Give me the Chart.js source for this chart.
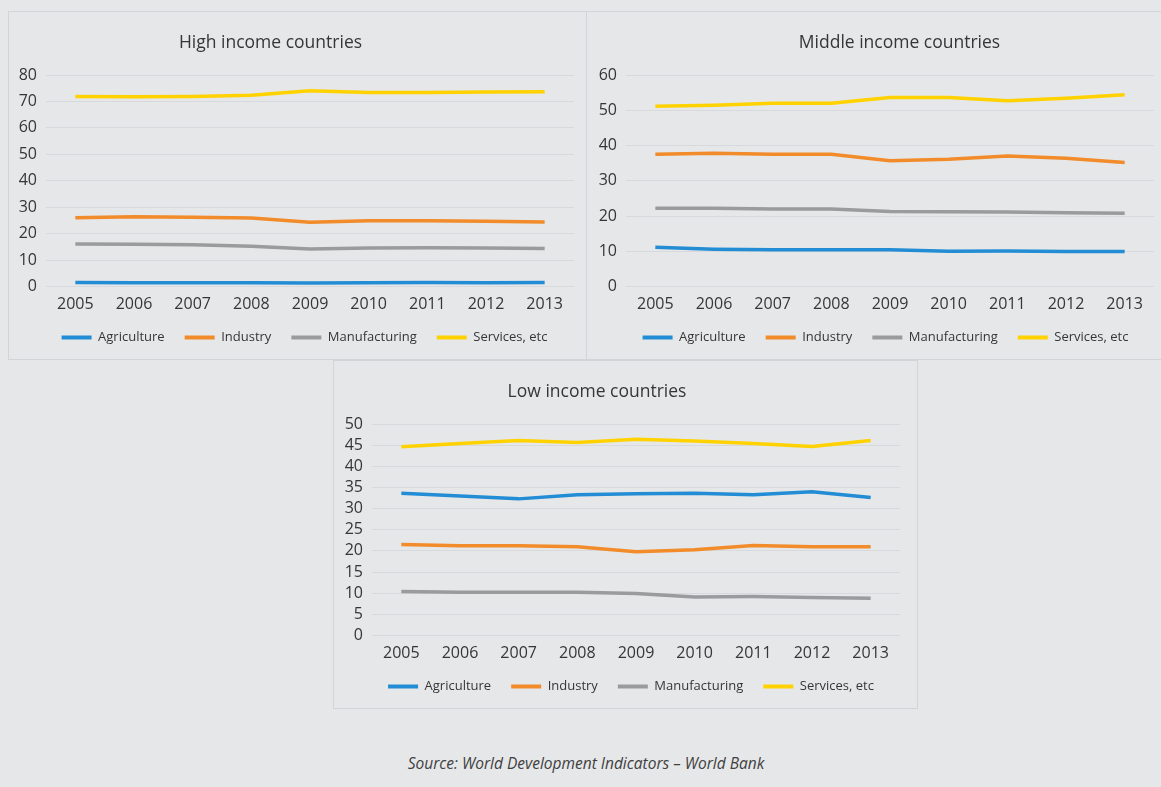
<!DOCTYPE html>
<html>
<head>
<meta charset="utf-8">
<script src="https://cdn.jsdelivr.net/npm/chart.js@4.4.1/dist/chart.umd.min.js"></script>
<style>
  html, body { margin: 0; padding: 0; background: #e6e7e9; }
  body { width: 1161px; height: 787px; position: relative; overflow: hidden; font-family: "Open Sans", sans-serif; }
  .panel { position: absolute; box-sizing: border-box; border: 1px solid #d3d4d7; }
  .panel canvas { position: absolute; left: 0; top: 0; }
  #source { position: absolute; left: 0; width: 1172px; top: 752px; text-align: center;
            font-style: italic; font-size: 15.5px; color: #404040; }
</style>
</head>
<body>
<div class="panel" style="left:8px; top:11px; width:579px; height:349px;"><canvas id="high" width="577" height="347"></canvas></div>
<div class="panel" style="left:586px; top:11px; width:579px; height:349px;"><canvas id="middle" width="577" height="347"></canvas></div>
<div class="panel" style="left:333px; top:360px; width:585px; height:349px;"><canvas id="low" width="583" height="347"></canvas></div>
<div id="source">Source: World Development Indicators – World Bank</div>

<script>
const years = ['2005', '2006', '2007', '2008', '2009', '2010', '2011', '2012', '2013'];
const seriesNames = ['Agriculture', 'Industry', 'Manufacturing', 'Services, etc'];
const seriesColors = ['#228dd4', '#f28b2a', '#9a9b9d', '#ffd200'];

// value added, % of GDP
const highAgriculture   = [1.5, 1.4, 1.4, 1.4, 1.3, 1.4, 1.5, 1.4, 1.5];
const highIndustry      = [26.0, 26.4, 26.2, 25.9, 24.3, 24.9, 24.9, 24.7, 24.4];
const highManufacturing = [16.1, 16.0, 15.8, 15.2, 14.2, 14.6, 14.7, 14.6, 14.4];
const highServices      = [71.9, 71.8, 71.9, 72.3, 74.0, 73.4, 73.4, 73.6, 73.7];

const middleAgriculture   = [11.1, 10.6, 10.4, 10.4, 10.4, 10.0, 10.1, 9.9, 9.9];
const middleIndustry      = [37.5, 37.8, 37.5, 37.5, 35.7, 36.1, 37.0, 36.4, 35.2];
const middleManufacturing = [22.2, 22.2, 22.0, 22.0, 21.3, 21.2, 21.1, 20.9, 20.8];
const middleServices      = [51.1, 51.4, 52.0, 52.0, 53.6, 53.6, 52.7, 53.4, 54.4];

const lowAgriculture   = [33.6, 33.0, 32.3, 33.3, 33.5, 33.6, 33.3, 34.0, 32.6];
const lowIndustry      = [21.5, 21.2, 21.2, 21.0, 19.8, 20.3, 21.3, 21.0, 21.0];
const lowManufacturing = [10.4, 10.2, 10.2, 10.2, 9.9, 9.1, 9.2, 9.0, 8.8];
const lowServices      = [44.6, 45.4, 46.1, 45.6, 46.4, 46.0, 45.4, 44.7, 46.1];

const textColor = '#363636';
const fontFamily = '"Open Sans", sans-serif';

// nudges title and legend sideways after layout, chart area stays put
function shiftBlocks(titleDx, legendDx) {
  return {
    id: 'shiftBlocks',
    afterLayout(chart) {
      if (chart.titleBlock) { chart.titleBlock.left += titleDx; chart.titleBlock.right += titleDx; }
      if (chart.legend) {
        chart.legend.left += legendDx; chart.legend.right += legendDx;
        chart.legend.legendHitBoxes.forEach(b => { b.left += legendDx; });
      }
    }
  };
}

function makeChart(id, title, series, yMax, yStep, axisWidth, rightPad, titleDx, legendDx) {
  const ctx = document.getElementById(id).getContext('2d');
  return new Chart(ctx, {
    type: 'line',
    data: {
      labels: years,
      datasets: series.map((values, i) => ({
        label: seriesNames[i],
        data: values,
        borderColor: seriesColors[i],
        backgroundColor: seriesColors[i],
        borderWidth: 3.5,
        pointRadius: 0,
        tension: 0,
        fill: false
      }))
    },
    plugins: [shiftBlocks(titleDx, legendDx)],
    options: {
      responsive: false,
      animation: false,
      layout: { padding: { left: 0, right: rightPad, top: 0, bottom: 5 } },
      plugins: {
        title: {
          display: true,
          text: title,
          color: textColor,
          font: { family: fontFamily, size: 17.5, weight: 'normal' },
          padding: { top: 21, bottom: 21 }
        },
        legend: {
          position: 'bottom',
          labels: {
            color: textColor,
            font: { family: fontFamily, size: 13 },
            boxWidth: 30,
            boxHeight: 4,
            padding: 20,
            generateLabels(chart) {
              // flat coloured bars, no stroke round them
              return Chart.defaults.plugins.legend.labels.generateLabels(chart)
                .map(item => Object.assign(item, { lineWidth: 0 }));
            }
          }
        },
        tooltip: { enabled: false }
      },
      scales: {
        x: {
          offset: true,
          grid: { display: false, drawTicks: false },
          border: { display: false },
          ticks: { color: textColor, font: { family: fontFamily, size: 16 }, padding: 8, maxRotation: 0 },
          afterFit(scale) { scale.height = 24.5; }
        },
        y: {
          min: 0,
          max: yMax,
          grid: { color: '#d8d9dc', lineWidth: 1, drawTicks: false },
          border: { display: false },
          ticks: { stepSize: yStep, autoSkip: false, color: textColor, font: { family: fontFamily, size: 16 }, padding: 9 },
          afterFit(scale) { scale.width = axisWidth; }
        }
      }
    }
  });
}

makeChart('high', 'High income countries',
  [highAgriculture, highIndustry, highManufacturing, highServices], 80, 10, 37, 12, -21, 13);
makeChart('middle', 'Middle income countries',
  [middleAgriculture, middleIndustry, middleManufacturing, middleServices], 60, 10, 39, 10, 29, 15);
makeChart('low', 'Low income countries',
  [lowAgriculture, lowIndustry, lowManufacturing, lowServices], 50, 5, 38, 17, -20, 14);
</script>
</body>
</html>
